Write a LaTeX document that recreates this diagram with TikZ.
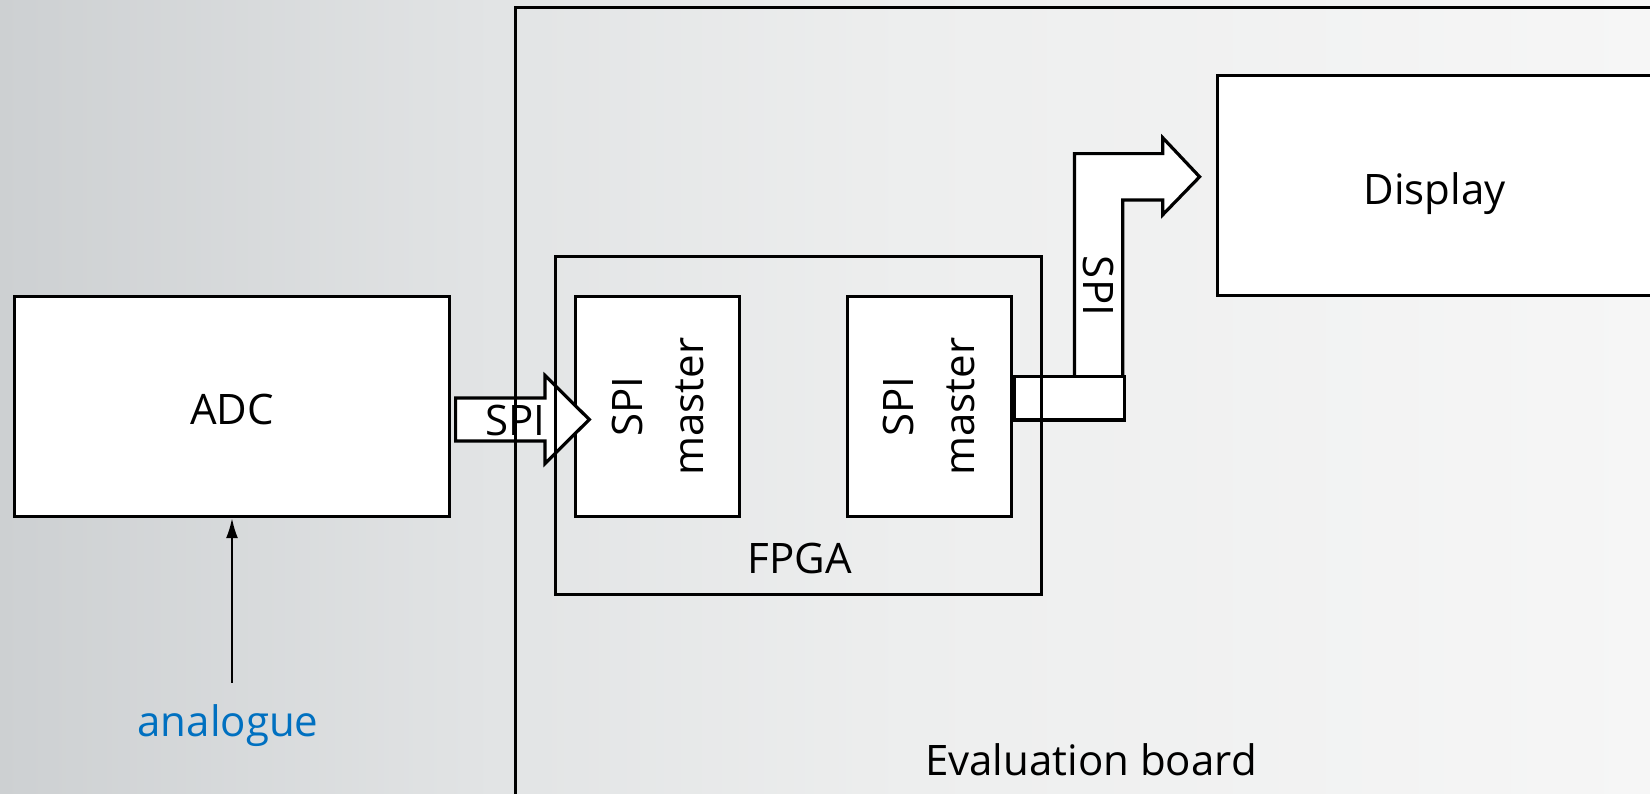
\documentclass[tikz,border=0pt]{standalone}
\usepackage{fontspec}
\setmainfont{Open Sans}
\usetikzlibrary{arrows.meta,calc}
\definecolor{bgA}{RGB}{205,208,210}
\definecolor{bgB}{RGB}{226,228,229}
\definecolor{bgC}{RGB}{237,238,238}
\definecolor{bgD}{RGB}{246,246,246}
\definecolor{anablue}{RGB}{0,112,192}
\pgfdeclarehorizontalshading{bgshade}{100bp}{color(0bp)=(bgA); color(25bp)=(bgA); color(40bp)=(bgB); color(52.5bp)=(bgC); color(75bp)=(bgD); color(100bp)=(bgD)}
\begin{document}
\begin{tikzpicture}[x=1pt,y=-1pt,
  every node/.style={font=\fontsize{42}{61}\selectfont, inner sep=0pt, outer sep=0pt},
  blk/.style={draw=black, line width=3.2pt, fill=white},
  frame/.style={draw=black, line width=2.5pt},
  barrow/.style={draw=black, line width=3.2pt, fill=white, line join=miter},
  lbl/.style={anchor=base, text=black},
]
\useasboundingbox (0,0) rectangle (1650,793);
\clip (0,0) rectangle (1650,793);
\shade[shading=bgshade, shading angle=0] (0,0) rectangle (1650,793);

% main boxes
\node[blk, minimum width=434.6, minimum height=220] (adc) at (232,406.7) {};
\node[blk, minimum width=434.6, minimum height=220] (display) at (1434.5,185.8) {};
\node[blk, minimum width=220, minimum height=164.2, rotate=90, align=center] (m1) at (657.7,406.7) {SPI\\master};
\node[blk, minimum width=220, minimum height=164.2, rotate=90, align=center] (m2) at (929.2,406.7) {SPI\\master};

% block arrow ADC -> SPI master 1
\path[barrow] (455.6,398) -- (545,398) -- (545,375.5) -- (589.3,419.5) -- (545,463.5)
  -- (545,441) -- (455.6,441) -- cycle;

% bent block arrow SPI master 2 -> Display
\path[barrow] (1074.4,376.7) -- (1074.4,153.6) -- (1162.8,153.6) -- (1162.8,137.8)
  -- (1199.6,176.8) -- (1162.8,214.7) -- (1162.8,199.9) -- (1122.8,199.9) -- (1122.8,376.7);
\node[blk, minimum width=110.5, minimum height=43.2] (port) at (1069.6,398.3) {};

% frames drawn over arrows
\node[frame, minimum width=1200, minimum height=900, anchor=north west] (board) at (515.6,7.4) {};
\node[frame, line width=3pt, minimum width=486.2, minimum height=337.8] (fpga) at (798.7,425.7) {};

% texts
\node[lbl] (adct) at (232,424) {ADC};
\node[lbl] (dispt) at (1434.5,204) {Display};
\node[lbl] (fpgat) at (799.7,573.5) {FPGA};
\node[lbl] (boardt) at (1091,775) {Evaluation board};
\node[lbl] (spi1) at (515.6,435.5) {SPI};
\node[rotate=-90] (spi2) at (1098.5,286) {SPI};
\node[lbl, text=anablue] (analogue) at (228,736.6) {analogue};

\draw[line width=2pt, -{Latex[length=20pt,width=12pt]}, shorten <=22pt, shorten >=1.5pt]
  (analogue.north -| adc.south) -- (adc.south);
\end{tikzpicture}
\end{document}
